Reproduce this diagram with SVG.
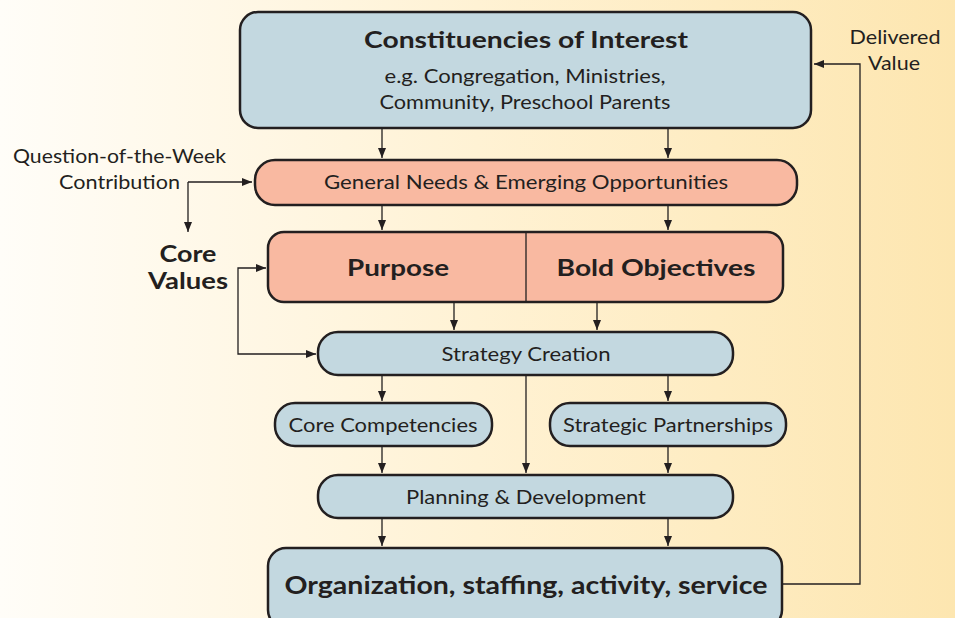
<svg xmlns="http://www.w3.org/2000/svg" width="955" height="618" viewBox="0 0 955 618">
<defs>
<linearGradient id="bg" x1="0" y1="0" x2="1" y2="0">
<stop offset="0" stop-color="#fffdf8"/>
<stop offset="0.5" stop-color="#fff2d4"/>
<stop offset="1" stop-color="#fde6b0"/>
</linearGradient>
<marker id="ah" viewBox="0 0 10 10" refX="10" refY="5" markerWidth="10" markerHeight="10" markerUnits="userSpaceOnUse" orient="auto-start-reverse">
<path d="M0,1 L10,5 L0,9 Z" fill="#231f20"/>
</marker>
<style>
.blue{fill:#c3d8e0;stroke:#231f20;stroke-width:2.5}
.pink{fill:#f9b9a1;stroke:#231f20;stroke-width:2.5}
.t{font-family:Lato,"Open Sans","Liberation Sans",sans-serif;fill:#231f20;text-anchor:middle}
.r{font-size:19px}
.b{font-weight:bold;font-size:23px}
.c{fill:none;stroke:#231f20;stroke-width:1.3;marker-end:url(#ah)}
</style>
</defs>
<rect x="0" y="0" width="955" height="618" fill="url(#bg)"/>

<g id="constituencies">
<rect class="blue" x="240" y="12" width="571" height="116" rx="18"/>
<text class="t b" x="526" y="48" textLength="324" lengthAdjust="spacingAndGlyphs">Constituencies of Interest</text>
<text class="t r" x="525" y="83" textLength="281" lengthAdjust="spacingAndGlyphs">e.g. Congregation, Ministries,</text>
<text class="t r" x="525" y="109" textLength="291" lengthAdjust="spacingAndGlyphs">Community, Preschool Parents</text>
</g>

<g id="general-needs">
<rect class="pink" x="255" y="160" width="542" height="45" rx="20"/>
<text class="t r" x="526" y="189" textLength="404" lengthAdjust="spacingAndGlyphs">General Needs &amp; Emerging Opportunities</text>
</g>

<g id="purpose-objectives">
<rect class="pink" x="268" y="232" width="515" height="70" rx="16"/>
<line x1="526" y1="232" x2="526" y2="302" stroke="#231f20" stroke-width="1.3"/>
<text class="t b" x="398" y="276" textLength="102" lengthAdjust="spacingAndGlyphs">Purpose</text>
<text class="t b" x="656" y="276" textLength="199" lengthAdjust="spacingAndGlyphs">Bold Objectives</text>
</g>

<g id="strategy-creation">
<rect class="blue" x="318" y="332" width="415" height="43" rx="20"/>
<text class="t r" x="526" y="361" textLength="169" lengthAdjust="spacingAndGlyphs">Strategy Creation</text>
</g>

<g id="core-competencies">
<rect class="blue" x="275" y="403" width="217" height="43" rx="20"/>
<text class="t r" x="383" y="432" textLength="189" lengthAdjust="spacingAndGlyphs">Core Competencies</text>
</g>

<g id="strategic-partnerships">
<rect class="blue" x="550" y="403" width="236" height="43" rx="20"/>
<text class="t r" x="668" y="432" textLength="210" lengthAdjust="spacingAndGlyphs">Strategic Partnerships</text>
</g>

<g id="planning">
<rect class="blue" x="318" y="475" width="415" height="43" rx="20"/>
<text class="t r" x="526" y="504" textLength="240" lengthAdjust="spacingAndGlyphs">Planning &amp; Development</text>
</g>

<g id="organization">
<rect class="blue" x="268" y="548" width="514" height="80" rx="18"/>
<text class="t b" x="526" y="594" style="font-size:24px" textLength="483" lengthAdjust="spacingAndGlyphs">Organization, staffing, activity, service</text>
</g>

<g id="labels">
<text class="t r" x="226" y="163" style="text-anchor:end" textLength="213" lengthAdjust="spacingAndGlyphs">Question-of-the-Week</text>
<text class="t r" x="180" y="189" style="text-anchor:end" textLength="121" lengthAdjust="spacingAndGlyphs">Contribution</text>
<text class="t b" x="188" y="262" textLength="57" lengthAdjust="spacingAndGlyphs">Core</text>
<text class="t b" x="188" y="289" textLength="80" lengthAdjust="spacingAndGlyphs">Values</text>
<text class="t r" x="895" y="44" textLength="91" lengthAdjust="spacingAndGlyphs">Delivered</text>
<text class="t r" x="894" y="70" textLength="52" lengthAdjust="spacingAndGlyphs">Value</text>
</g>

<g id="connectors">
<line class="c" x1="382" y1="128" x2="382" y2="158"/>
<line class="c" x1="668" y1="128" x2="668" y2="158"/>
<line class="c" x1="382" y1="205" x2="382" y2="230"/>
<line class="c" x1="668" y1="205" x2="668" y2="230"/>
<line class="c" x1="454" y1="302" x2="454" y2="330"/>
<line class="c" x1="597" y1="302" x2="597" y2="330"/>
<line class="c" x1="382" y1="375" x2="382" y2="401"/>
<line class="c" x1="668" y1="375" x2="668" y2="401"/>
<line class="c" x1="526" y1="375" x2="526" y2="473"/>
<line class="c" x1="382" y1="446" x2="382" y2="473"/>
<line class="c" x1="668" y1="446" x2="668" y2="473"/>
<line class="c" x1="382" y1="518" x2="382" y2="546"/>
<line class="c" x1="668" y1="518" x2="668" y2="546"/>
<polyline class="c" points="782,584 860,584 860,64 814,64"/>
<polyline class="c" points="188,182 252,182"/>
<polyline class="c" points="188,182 188,232"/>
<polyline class="c" style="marker-start:url(#ah)" points="266,268 238,268 238,354 316,354"/>
</g>
</svg>
